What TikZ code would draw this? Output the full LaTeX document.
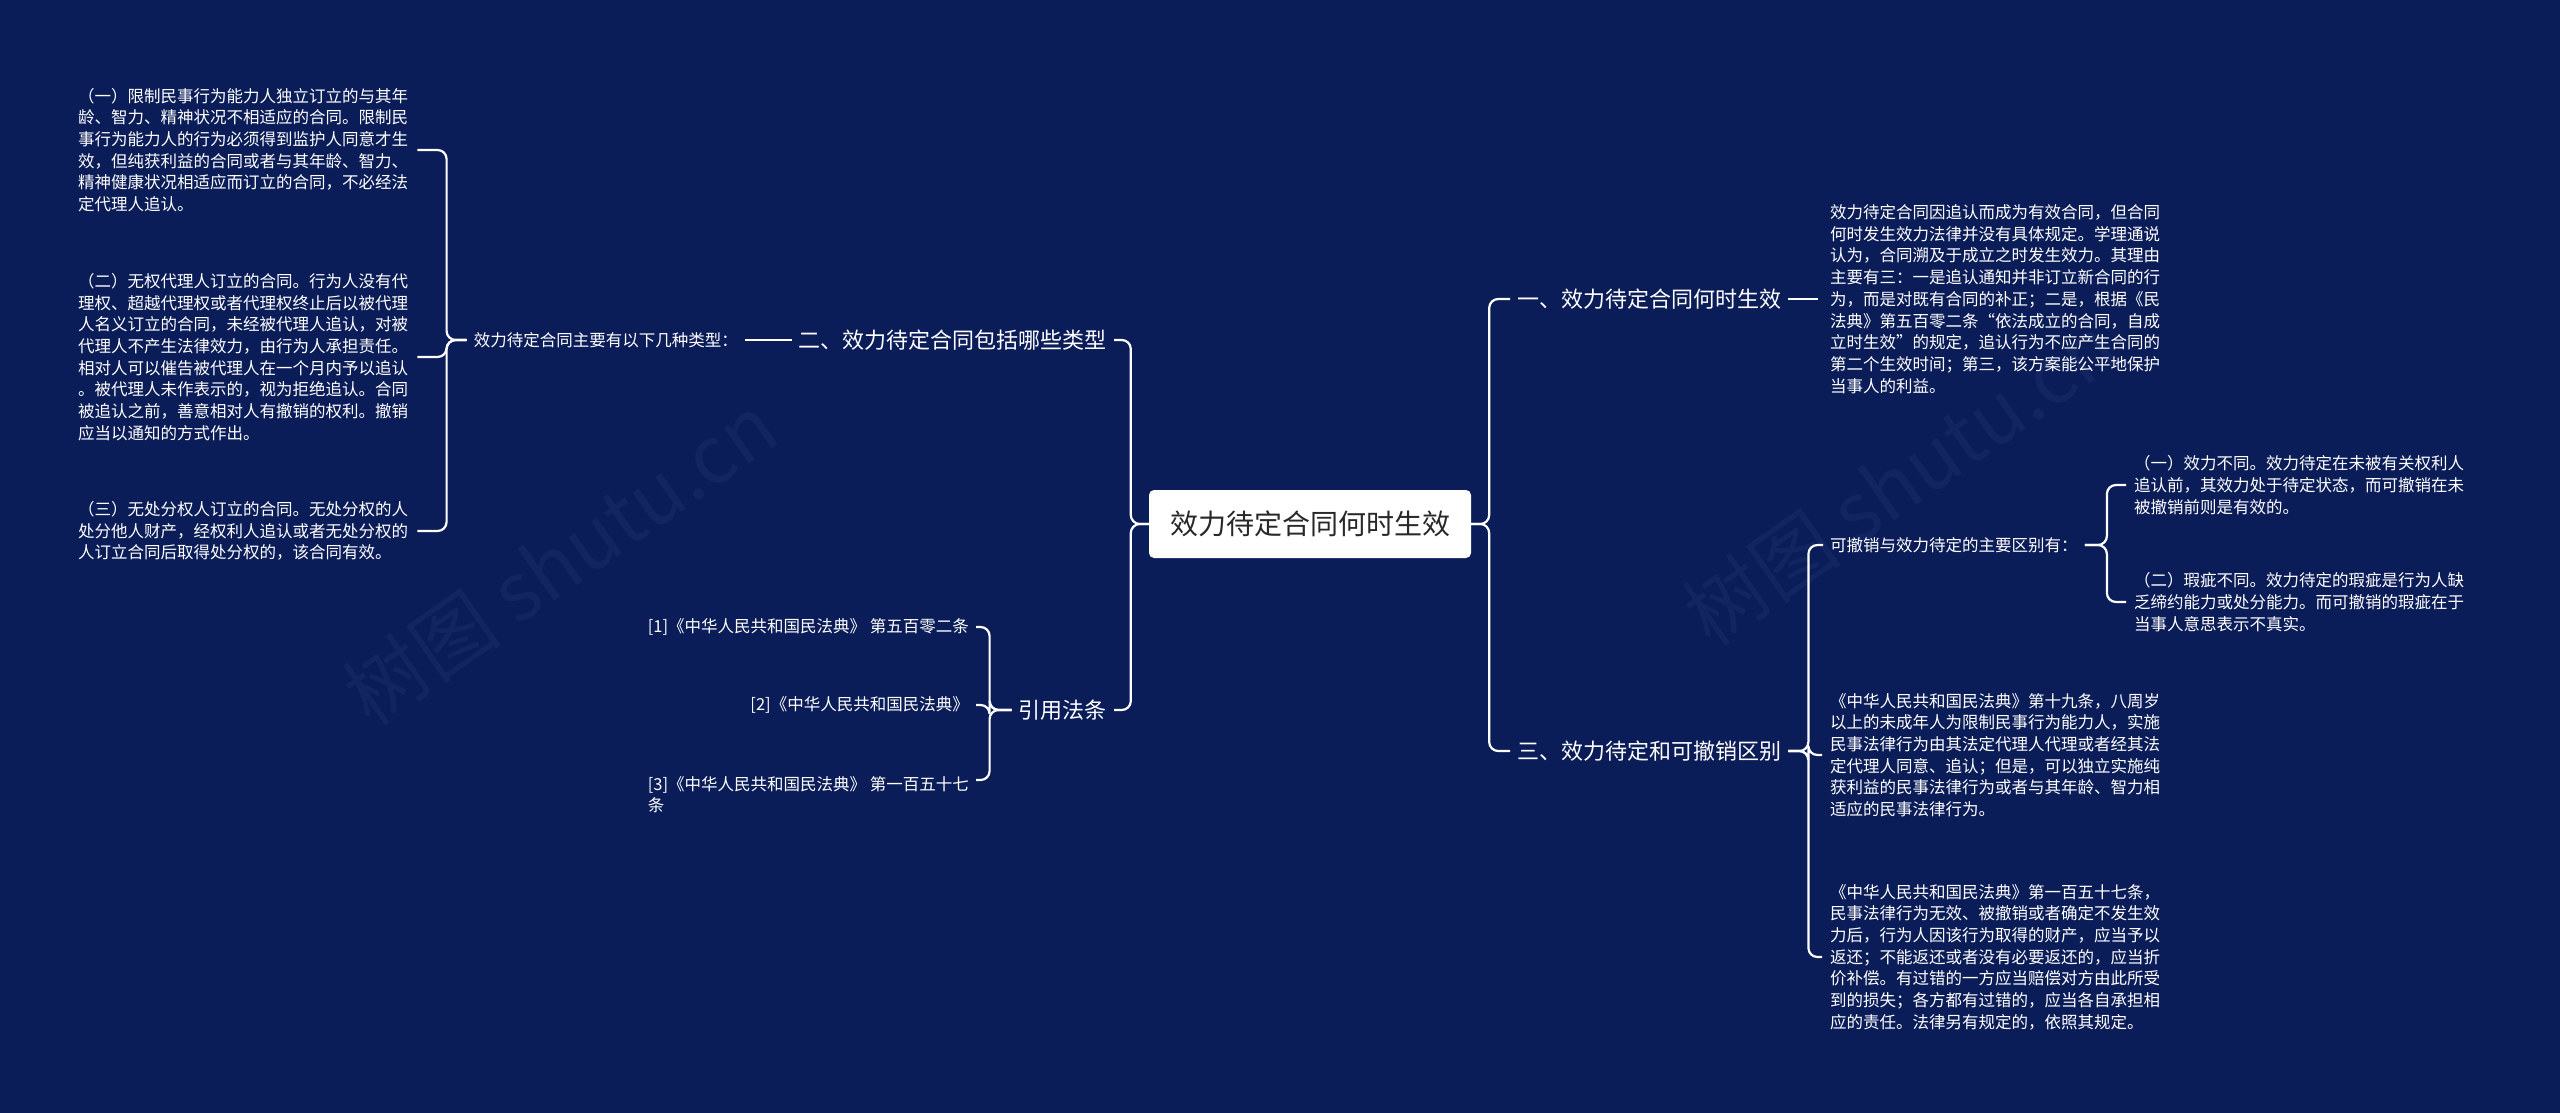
\documentclass[tikz,border=0pt]{standalone}
\usepackage{fontspec}
\setmainfont{Noto Sans CJK SC}
\definecolor{bg}{RGB}{11,29,88}
\definecolor{wm}{RGB}{19,37,96}
\definecolor{ctext}{RGB}{40,40,40}
\tikzset{
  conn/.style={draw=white,line width=2.2pt,rounded corners=9pt},
  blk/.style={text=white,font=\fontsize{16.5}{21.7}\selectfont,align=left,inner sep=0pt},
  br/.style={text=white,font=\fontsize{22}{27}\selectfont,inner sep=7pt},
  sm/.style={text=white,font=\fontsize{16.5}{21.7}\selectfont,inner sep=7pt,align=left},
  wmk/.style={text=wm,font=\fontsize{80}{90}\selectfont,rotate=35}
}
\begin{document}
\begin{tikzpicture}[x=1pt,y=-1pt]
\fill[bg] (0,0) rectangle (2560,1113);
\useasboundingbox (0,0) rectangle (2560,1113);
\node[wmk] (w1) at (560,560) {树图 shutu.cn};
\node[wmk] (w2) at (1900,480) {树图 shutu.cn};

\node[fill=white,rounded corners=5pt,text=ctext,font=\fontsize{28}{32}\selectfont,minimum width=322pt,minimum height=68pt,inner sep=4pt] (c) at (1310,524) {效力待定合同何时生效};

% left
\node[br,anchor=east] (b2) at (1114,340) {二、效力待定合同包括哪些类型};
\node[br,anchor=east] (cite) at (1114,710) {引用法条};
\node[sm,anchor=east] (lbl) at (745,340) {效力待定合同主要有以下几种类型：};
\node[blk,anchor=west] (a1) at (78,150) {（一）限制民事行为能力人独立订立的与其年\\龄、智力、精神状况不相适应的合同。限制民\\事行为能力人的行为必须得到监护人同意才生\\效，但纯获利益的合同或者与其年龄、智力、\\精神健康状况相适应而订立的合同，不必经法\\定代理人追认。};
\node[blk,anchor=west] (a2) at (78,357) {（二）无权代理人订立的合同。行为人没有代\\理权、超越代理权或者代理权终止后以被代理\\人名义订立的合同，未经被代理人追认，对被\\代理人不产生法律效力，由行为人承担责任。\\相对人可以催告被代理人在一个月内予以追认\\。被代理人未作表示的，视为拒绝追认。合同\\被追认之前，善意相对人有撤销的权利。撤销\\应当以通知的方式作出。};
\node[blk,anchor=west] (a3) at (78,531) {（三）无处分权人订立的合同。无处分权的人\\处分他人财产，经权利人追认或者无处分权的\\人订立合同后取得处分权的，该合同有效。};
\node[sm,anchor=east] (c1) at (976,627) {[1]《中华人民共和国民法典》 第五百零二条};
\node[sm,anchor=east] (c2) at (976,705) {[2]《中华人民共和国民法典》};
\node[sm,anchor=north east] (c3) at (976,769) {[3]《中华人民共和国民法典》 第一百五十七\\条};

% right
\node[br,anchor=west] (r1) at (1510,299) {一、效力待定合同何时生效};
\node[br,anchor=west] (r3) at (1510,751) {三、效力待定和可撤销区别};
\node[blk,anchor=west] (t1) at (1830,299) {效力待定合同因追认而成为有效合同，但合同\\何时发生效力法律并没有具体规定。学理通说\\认为，合同溯及于成立之时发生效力。其理由\\主要有三：一是追认通知并非订立新合同的行\\为，而是对既有合同的补正；二是，根据《民\\法典》第五百零二条“依法成立的合同，自成\\立时生效”的规定，追认行为不应产生合同的\\第二个生效时间；第三，该方案能公平地保护\\当事人的利益。};
\node[sm,anchor=west] (kc) at (1823,545) {可撤销与效力待定的主要区别有：};
\node[blk,anchor=west] (k1) at (2134,485) {（一）效力不同。效力待定在未被有关权利人\\追认前，其效力处于待定状态，而可撤销在未\\被撤销前则是有效的。};
\node[blk,anchor=west] (k2) at (2134,602) {（二）瑕疵不同。效力待定的瑕疵是行为人缺\\乏缔约能力或处分能力。而可撤销的瑕疵在于\\当事人意思表示不真实。};
\node[blk,anchor=west] (s1) at (1830,755) {《中华人民共和国民法典》第十九条，八周岁\\以上的未成年人为限制民事行为能力人，实施\\民事法律行为由其法定代理人代理或者经其法\\定代理人同意、追认；但是，可以独立实施纯\\获利益的民事法律行为或者与其年龄、智力相\\适应的民事法律行为。};
\node[blk,anchor=west] (s2) at (1830,957) {《中华人民共和国民法典》第一百五十七条，\\民事法律行为无效、被撤销或者确定不发生效\\力后，行为人因该行为取得的财产，应当予以\\返还；不能返还或者没有必要返还的，应当折\\价补偿。有过错的一方应当赔偿对方由此所受\\到的损失；各方都有过错的，应当各自承担相\\应的责任。法律另有规定的，依照其规定。};

% connectors
\foreach \t in {b2,cite} \draw[conn] (c.west) -- ++(-18,0) |- (\t.east);
\foreach \t in {r1,r3} \draw[conn] (c.east) -- ++(18,0) |- (\t.west);
\draw[conn] (lbl.east) -- (b2.west);
\foreach \t in {a1,a2,a3} \draw[conn] (lbl.west) -- ++(-20,0) |- ([xshift=9pt]\t.east);
\foreach \t in {c1,c2} \draw[conn] (cite.west) -- ++(-22,0) |- (\t.east);
\draw[conn] (cite.west) -- ++(-22,0) |- ([yshift=-11pt]c3.north east);
\draw[conn] (r1.east) -- ([xshift=-12pt]t1.west);
\draw[conn] (r3.east) -- ++(20,0) |- (kc.west);
\foreach \t in {s1,s2} \draw[conn] (r3.east) -- ++(20,0) |- ([xshift=-8pt]\t.west);
\foreach \t in {k1,k2} \draw[conn] (kc.east) -- ++(22,0) |- ([xshift=-8pt]\t.west);
\end{tikzpicture}
\end{document}
